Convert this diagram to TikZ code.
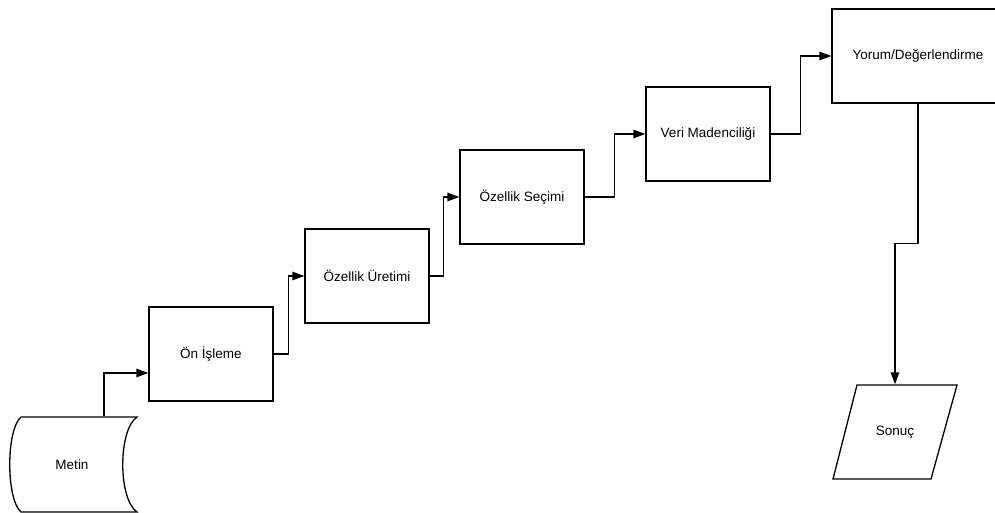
\documentclass[tikz,border=0pt]{standalone}
\usepackage{fontspec}
\setmainfont{Liberation Sans}
\usetikzlibrary{arrows.meta,calc}
\begin{document}
\begin{tikzpicture}[x=1pt,y=-1pt,
  line width=1.3pt,
  stepbox/.style={draw,rectangle,minimum width=124pt,minimum height=94pt,
    inner sep=0pt,font=\fontsize{13.5}{16}\selectfont},
  hidden/.style={rectangle,inner sep=0pt,font=\fontsize{13.5}{16}\selectfont},
  arr/.style={-{Triangle[length=12pt,width=8.5pt]}}]
\useasboundingbox (0,0) rectangle (995,513);
\clip (0,0) rectangle (995,513);

% process steps
\node[stepbox] (oni)  at (211,354) {Ön İşleme};
\node[stepbox] (ozu)  at (367,276) {Özellik Üretimi};
\node[stepbox] (ozs)  at (522,197) {Özellik Seçimi};
\node[stepbox] (veri) at (708,134) {Veri Madenciliği};
\node[stepbox,minimum width=172pt] (yorum) at (918,56) {Yorum/Değerlendirme};

% stored data (Metin)
\draw (21,417) -- (137,417)
  .. controls (118,430) and (118,499) .. (137,512)
  -- (21,512)
  .. controls (6,499) and (6,430) .. (21,417) -- cycle;
\node[hidden,minimum width=100pt,minimum height=95pt] (metin) at (72,464.5) {Metin};

% result (Sonuç)
\draw (857,385) -- (957,385) -- (931,479) -- (833,479) -- cycle;
\node[hidden,minimum width=124pt,minimum height=94pt] (sonuc) at (895,432) {Sonuç};

% connectors
\draw[arr] ([xshift=32pt]metin.north) |- ([yshift=-19pt]oni.west);
\draw[arr] (oni.east) -| ([xshift=-16pt]ozu.west) -- (ozu.west);
\draw[arr] (ozu.east) -| ([xshift=-16pt]ozs.west) -- (ozs.west);
\draw[arr] (ozs.east) -| ([xshift=-31pt]veri.west) -- (veri.west);
\draw[arr] (veri.east) -| ([xshift=-31pt]yorum.west) -- (yorum.west);
\draw[arr] (yorum.south) -- ([yshift=-140pt]yorum.south) -| (sonuc.north);
\end{tikzpicture}
\end{document}
